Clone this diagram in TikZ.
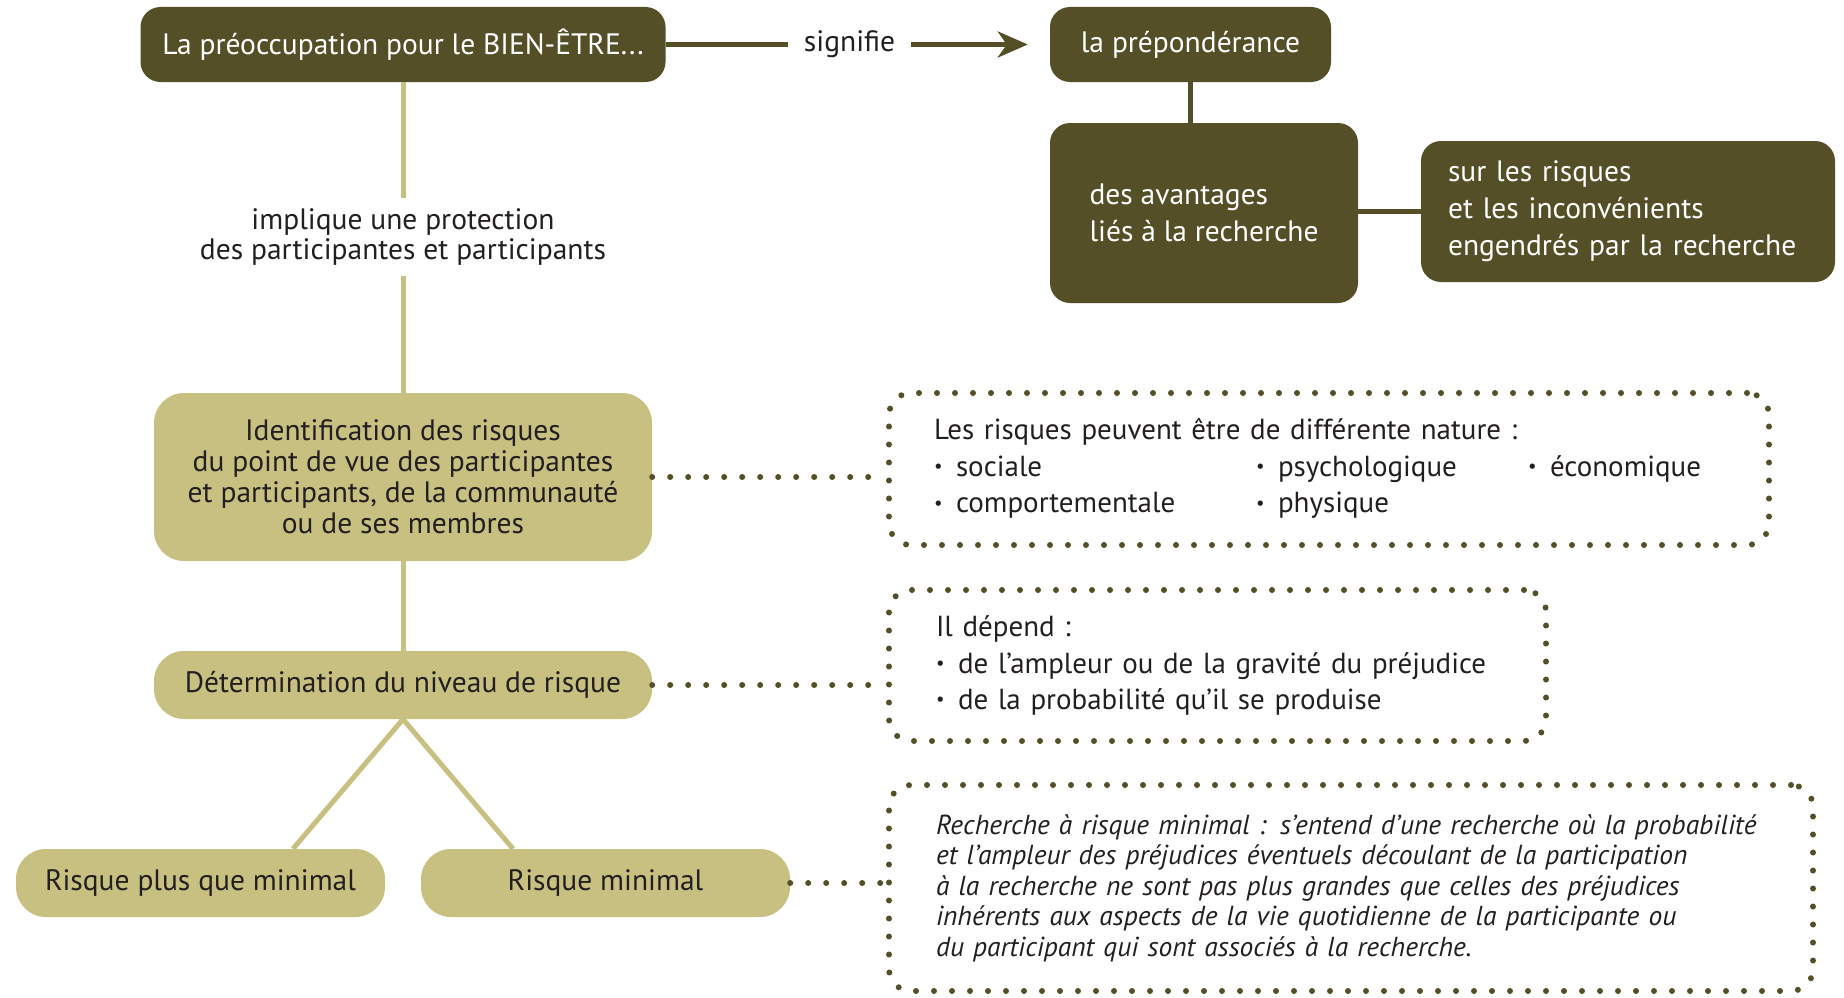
\documentclass[tikz,border=0pt]{standalone}
\usepackage{fontspec}
\setmainfont{PT Sans}
\usepackage{graphicx}
\usetikzlibrary{arrows.meta}
\definecolor{darkol}{HTML}{554F28}
\definecolor{khakic}{HTML}{C8C081}
\definecolor{txtc}{HTML}{231F20}
\newcommand\myb{\makebox[22pt][l]{\raisebox{0.13em}{\scalebox{0.65}{•}}}}
\begin{document}
\begin{tikzpicture}[x=1pt,y=-1pt,
  mainfont/.style={font=\fontsize{29.5}{37}\selectfont},
  darkbox/.style={fill=darkol, text=white, rounded corners=20pt, inner sep=0pt, mainfont},
  khakibox/.style={fill=khakic, text=txtc, rounded corners=30pt, inner sep=0pt, mainfont},
  dotbox/.style={draw=darkol, line width=6pt, line cap=round, dash pattern=on 0pt off 18pt, rounded corners=22pt, text=txtc, inner ysep=0pt, align=left, font=\fontsize{29}{36.5}\selectfont},
  dotline/.style={draw=darkol, line width=6pt, line cap=round, dash pattern=on 0pt off 18pt},
  darkline/.style={draw=darkol, line width=5pt},
  khakiline/.style={draw=khakic, line width=5pt}]
\useasboundingbox (0,0) rectangle (1844,998);
\fill[white] (0,0) rectangle (1844,998);

% top row
\node[darkbox, minimum width=525pt, minimum height=75pt] (top) at (403,44.5) {La préoccupation pour le BIEN-ÊTRE...};
\node[mainfont, text=txtc, inner sep=0pt, minimum width=123pt, minimum height=40pt] (sig) at (849.5,44.5) {signifie};
\node[darkbox, minimum width=281pt, minimum height=75pt] (prep) at (1190.5,44.5) {la prépondérance};
\node[darkbox, minimum width=308pt, minimum height=180pt, align=left] (avant) at (1204,213) {des avantages\\liés à la recherche};
\node[darkbox, minimum width=414pt, minimum height=141pt, text width=360pt, inner xsep=27pt, align=left] (sur) at (1628,211.5) {sur les risques\\et les inconvénients\\engendrés par la recherche};

% left column
\node[font=\fontsize{29.5}{30.5}\selectfont, text=txtc, align=center, inner sep=0pt, minimum height=78pt] (impl) at (403,237) {implique une protection\\des participantes et participants};
\node[khakibox, minimum width=498pt, minimum height=168pt, align=center, font=\fontsize{29.5}{31}\selectfont] (ident) at (403,477) {Identification des risques\\du point de vue des participantes\\et participants, de la communauté\\ou de ses membres};
\node[khakibox, minimum width=498pt, minimum height=68pt] (det) at (403,685) {Détermination du niveau de risque};
\node[khakibox, minimum width=369pt, minimum height=68pt] (rpm) at (200.5,883) {Risque plus que minimal};
\node[khakibox, minimum width=369pt, minimum height=68pt] (rmin) at (605.5,883) {Risque minimal};

% dotted boxes
\node[dotbox, minimum width=880pt, minimum height=152pt, text width=790pt, inner xsep=45pt] (nat) at (1329,469) {%
\begin{tabular}{@{}p{322pt}@{}p{272pt}@{}l@{}}
\multicolumn{3}{@{}l@{}}{Les risques peuvent être de différente nature :}\\
\myb sociale & \myb psychologique & \myb économique\\
\myb comportementale & \myb physique &
\end{tabular}};
\node[dotbox, minimum width=657pt, minimum height=151pt, text width=563pt, inner xsep=47pt] (dep) at (1217.5,665.5) {Il dépend :\\\myb de l’ampleur ou de la gravité du préjudice\\\myb de la probabilité qu’il se produise};
\node[dotbox, minimum width=924pt, minimum height=206pt, text width=830pt, inner xsep=47pt, font=\itshape\fontsize{27.5}{30.5}\selectfont] (def) at (1351,888) {Recherche à risque minimal : s’entend d’une recherche où la probabilité\\et l’ampleur des préjudices éventuels découlant de la participation\\à la recherche ne sont pas plus grandes que celles des préjudices\\inhérents aux aspects de la vie quotidienne de la participante ou\\du participant qui sont associés à la recherche.};

% connectors
\draw[darkline] (top) -- (sig);
\draw[darkline, -{Stealth[length=30pt,width=26pt,inset=9pt]}, shorten >=22pt] (sig) -- (prep);
\draw[darkline] (prep.south) -- (prep.south |- avant.north);
\draw[darkline] (sur.west -| avant.east) -- (sur.west);
\draw[khakiline] (top) -- (impl);
\draw[khakiline] (impl) -- (ident);
\draw[khakiline] (ident) -- (det);
\draw[khakiline] (det.south) -- ([xshift=92.5pt]rpm.north);
\draw[khakiline] (det.south) -- ([xshift=-92.5pt]rmin.north);
\draw[dotline] (ident.east) -- (ident.east -| nat.west);
\draw[dotline] (det.east) -- (det.east -| dep.west);
\draw[dotline] (rmin.east) -- (rmin.east -| def.west);
\end{tikzpicture}
\end{document}
